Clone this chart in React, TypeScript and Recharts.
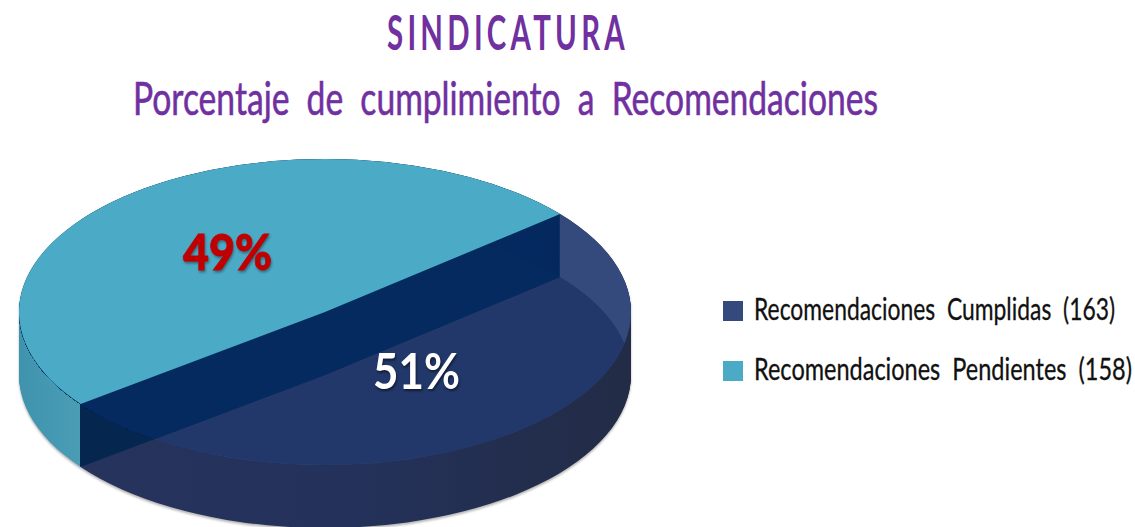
import React from "react";
import { PieChart, Pie, Cell } from "recharts";

const categories = ["Recomendaciones Cumplidas", "Recomendaciones Pendientes"];
const counts = [163, 158];
const percents = [51, 49];

const NONE = "none";
const NAVY_LEGEND = "#34497c";
const TEAL = "#4baac5";
const FONT = "Lato, 'Open Sans', sans-serif";
const PURPLE = "#7030a0";

const CX = 325;
const CY = 624; // pie is drawn round, the wrapper squashes it to half height
const R = 306;
const DEPTH = 126;
const START = 217;

const chartData = categories.map((name, i) => ({ name, value: counts[i] }));
const depthSteps = Array.from({ length: DEPTH / 2 + 1 }, (_, i) => i * 2);

const layer = (key: string, offset: number, fills: string[], clip?: string) => (
  <Pie
    key={key}
    data={chartData}
    dataKey="value"
    nameKey="name"
    cx={CX}
    cy={CY + offset}
    outerRadius={R}
    startAngle={START}
    endAngle={START + 360}
    stroke="none"
    legendType="none"
    isAnimationActive={false}
  >
    {fills.map((fill, i) => (
      <Cell key={i} fill={fill} stroke="none" clipPath={clip} />
    ))}
  </Pie>
);

// text squeezed sideways to get the narrow look of the original typeface
const NarrowText = ({ x, y, width, squeeze, children, ...rest }: any) => (
  <text
    transform={`translate(${x},${y}) scale(${squeeze},1)`}
    textLength={width / squeeze}
    lengthAdjust="spacingAndGlyphs"
    fontFamily={FONT}
    {...rest}
  >
    {children}
  </text>
);

const TOP_CLIP = "url(#topFace)";

export default function App() {
  return (
    <div style={{ position: "absolute", left: 0, top: 0, width: 1135, height: 527, overflow: "hidden", background: "#fff" }}>
      <div style={{ position: "absolute", left: 0, top: 0, filter: "drop-shadow(0 2px 1px rgba(70,70,70,0.4))" }}>
        <div style={{ width: 1135, height: 1054, transform: "scaleY(0.5)", transformOrigin: "0 0" }}>
          <PieChart width={1135} height={1054} margin={{ top: 0, right: 0, bottom: 0, left: 0 }}>
            <defs>
              <linearGradient id="navyWall" gradientUnits="userSpaceOnUse" x1={80} y1={0} x2={630} y2={0}>
                <stop offset="0" stopColor="#26345d" />
                <stop offset="0.5" stopColor="#24315a" />
                <stop offset="1" stopColor="#222c46" />
              </linearGradient>
              <linearGradient id="tealWall" gradientUnits="userSpaceOnUse" x1={19} y1={0} x2={630} y2={0}>
                <stop offset="0" stopColor="#3f93ad" />
                <stop offset="0.1" stopColor="#4a9db5" />
                <stop offset="0.1" stopColor="#05264f" />
                <stop offset="1" stopColor="#05264f" />
              </linearGradient>
              <clipPath id="topFace">
                <circle cx={CX} cy={CY} r={R} />
              </clipPath>
            </defs>
            {depthSteps.map((d) => layer(`navy-${d}`, d, ["url(#navyWall)", NONE]))}
            {layer("navy-top", 0, [NAVY_LEGEND, NONE])}
            {layer("navy-floor", DEPTH, ["#22386b", NONE], TOP_CLIP)}
            {depthSteps.map((d) => layer(`teal-${d}`, d, [NONE, "url(#tealWall)"]))}
            {depthSteps.map((d) => layer(`cut-${d}`, d, [NONE, "#052a60"], TOP_CLIP))}
            {layer("teal-top", 0, [NONE, TEAL])}
          </PieChart>
        </div>
      </div>

      <svg width={1135} height={527} style={{ position: "absolute", left: 0, top: 0 }}>
        <NarrowText x={387} y={50} width={242} squeeze={0.68} fontSize={48} fontWeight={700} fill={PURPLE} letterSpacing={7}>
          SINDICATURA
        </NarrowText>
        <NarrowText x={133} y={115} width={745} squeeze={0.66} fontSize={47} fill={PURPLE} stroke={PURPLE} strokeWidth={0.6} style={{ wordSpacing: "12px" }}>
          Porcentaje de cumplimiento a Recomendaciones
        </NarrowText>

        <NarrowText x={183} y={270} width={89} squeeze={0.9} fontSize={50} fontWeight={900} fill="#c00000" stroke="#c00000" strokeWidth={0.8} style={{ filter: "drop-shadow(1px 2px 1px rgba(0,0,0,0.35))" }}>
          {`${percents[1]}%`}
        </NarrowText>
        <NarrowText x={373} y={389} width={87} squeeze={0.9} fontSize={50} fontWeight={700} fill="#ffffff" style={{ filter: "drop-shadow(1px 2px 1px rgba(0,0,0,0.5))" }}>
          {`${percents[0]}%`}
        </NarrowText>

        {categories.map((name, i) => (
          <g key={name}>
            <rect x={723} y={301 + i * 60} width={20} height={20} fill={i === 0 ? NAVY_LEGEND : TEAL} />
            <NarrowText x={754} y={320 + i * 60} width={i === 0 ? 361 : 378} squeeze={0.7} fontSize={31} fill="#111" stroke="#111" strokeWidth={0.3} style={{ wordSpacing: "8px" }}>
              {`${name} (${counts[i]})`}
            </NarrowText>
          </g>
        ))}
      </svg>
    </div>
  );
}
